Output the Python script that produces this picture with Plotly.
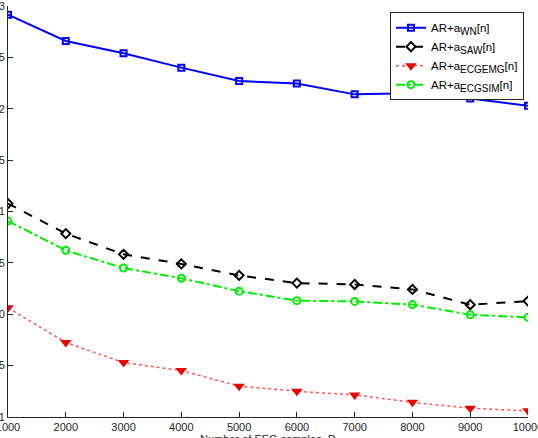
import plotly.graph_objects as go

x_samples = [1000, 2000, 3000, 4000, 5000, 6000, 7000, 8000, 9000, 10000]
wn = [2.915, 2.66, 2.54, 2.40, 2.27, 2.246, 2.14, 2.15, 2.10, 2.028]
saw = [1.077, 0.785, 0.583, 0.49, 0.378, 0.303, 0.29, 0.242, 0.093, 0.128]
ecgemg = [0.063, -0.275, -0.47, -0.548, -0.70, -0.75, -0.785, -0.857, -0.915, -0.94]
ecgsim = [0.907, 0.622, 0.45, 0.35, 0.225, 0.132, 0.125, 0.094, -0.005, -0.03]

subs = ["WN", "SAW", "ECGEMG", "ECGSIM"]
names = ["AR+a<sub><span style='font-size:10px'>%s</span></sub>[n]" % s for s in subs]
ytickvals = [-1, -0.5, 0, 0.5, 1, 1.5, 2, 2.5, 3]
yticktext = ["-1", "-0.5", "0", "0.5", "1", "1.5", "2", "2.5", "3"]
xtickvals = [1000, 2000, 3000, 4000, 5000, 6000, 7000, 8000, 9000, 10000]
xticktext = ["1000", "2000", "3000", "4000", "5000", "6000", "7000", "8000", "9000", "10000"]
xtitle = "Number of EEG samples, D"

fig = go.Figure()
fig.add_trace(go.Scatter(x=x_samples, y=wn, name=names[0], mode="lines+markers",
                         line=dict(color="#0000ff", width=2, dash="solid"),
                         marker=dict(symbol="square-open", size=6, color="#0000ff", line=dict(width=2))))
fig.add_trace(go.Scatter(x=x_samples, y=saw, name=names[1], mode="lines+markers",
                         line=dict(color="#000000", width=2, dash="dash"),
                         marker=dict(symbol="diamond-open", size=7, color="#000000", line=dict(width=2))))
fig.add_trace(go.Scatter(x=x_samples, y=ecgemg, name=names[2], mode="lines+markers",
                         line=dict(color="#ff5555", width=1.5, dash="dot"),
                         marker=dict(symbol="triangle-down", size=10, color="#ee0000")))
fig.add_trace(go.Scatter(x=x_samples, y=ecgsim, name=names[3], mode="lines+markers",
                         line=dict(color="#00ee00", width=2, dash="dashdot"),
                         marker=dict(symbol="circle-open", size=7, color="#00ee00", line=dict(width=2))))

fig.add_annotation(text=xtitle, xref="paper", yref="paper", x=0.5, y=0,
                   xanchor="center", yanchor="top", yshift=-14, showarrow=False,
                   font=dict(size=11, color="#262626"))

fig.update_layout(
    width=538, height=438,
    margin=dict(l=8, r=10, t=6, b=21, autoexpand=False),
    paper_bgcolor="white", plot_bgcolor="white",
    font=dict(family="Liberation Sans, Arial, sans-serif", size=11, color="#262626"),
    legend=dict(x=0.7346, y=0.985, xanchor="left", yanchor="top",
                bgcolor="white", bordercolor="#262626", borderwidth=1,
                font=dict(size=11.5, color="#000000"), tracegroupgap=1, itemwidth=30),
    showlegend=True,
)
fig.update_xaxes(range=[1000, 10000], tickvals=xtickvals, ticktext=xticktext, ticks="inside", ticklen=5,
                 tickcolor="#262626", showline=True, linecolor="#262626", linewidth=1,
                 showgrid=False, zeroline=False, automargin=False, ticklabeloverflow="allow")
fig.update_yaxes(range=[-1, 3], tickvals=ytickvals, ticktext=yticktext, ticks="inside", ticklen=5,
                 tickcolor="#262626", showline=True, linecolor="#262626", linewidth=1,
                 showgrid=False, zeroline=False, automargin=False, ticklabeloverflow="allow")

fig.write_html("out.html")
